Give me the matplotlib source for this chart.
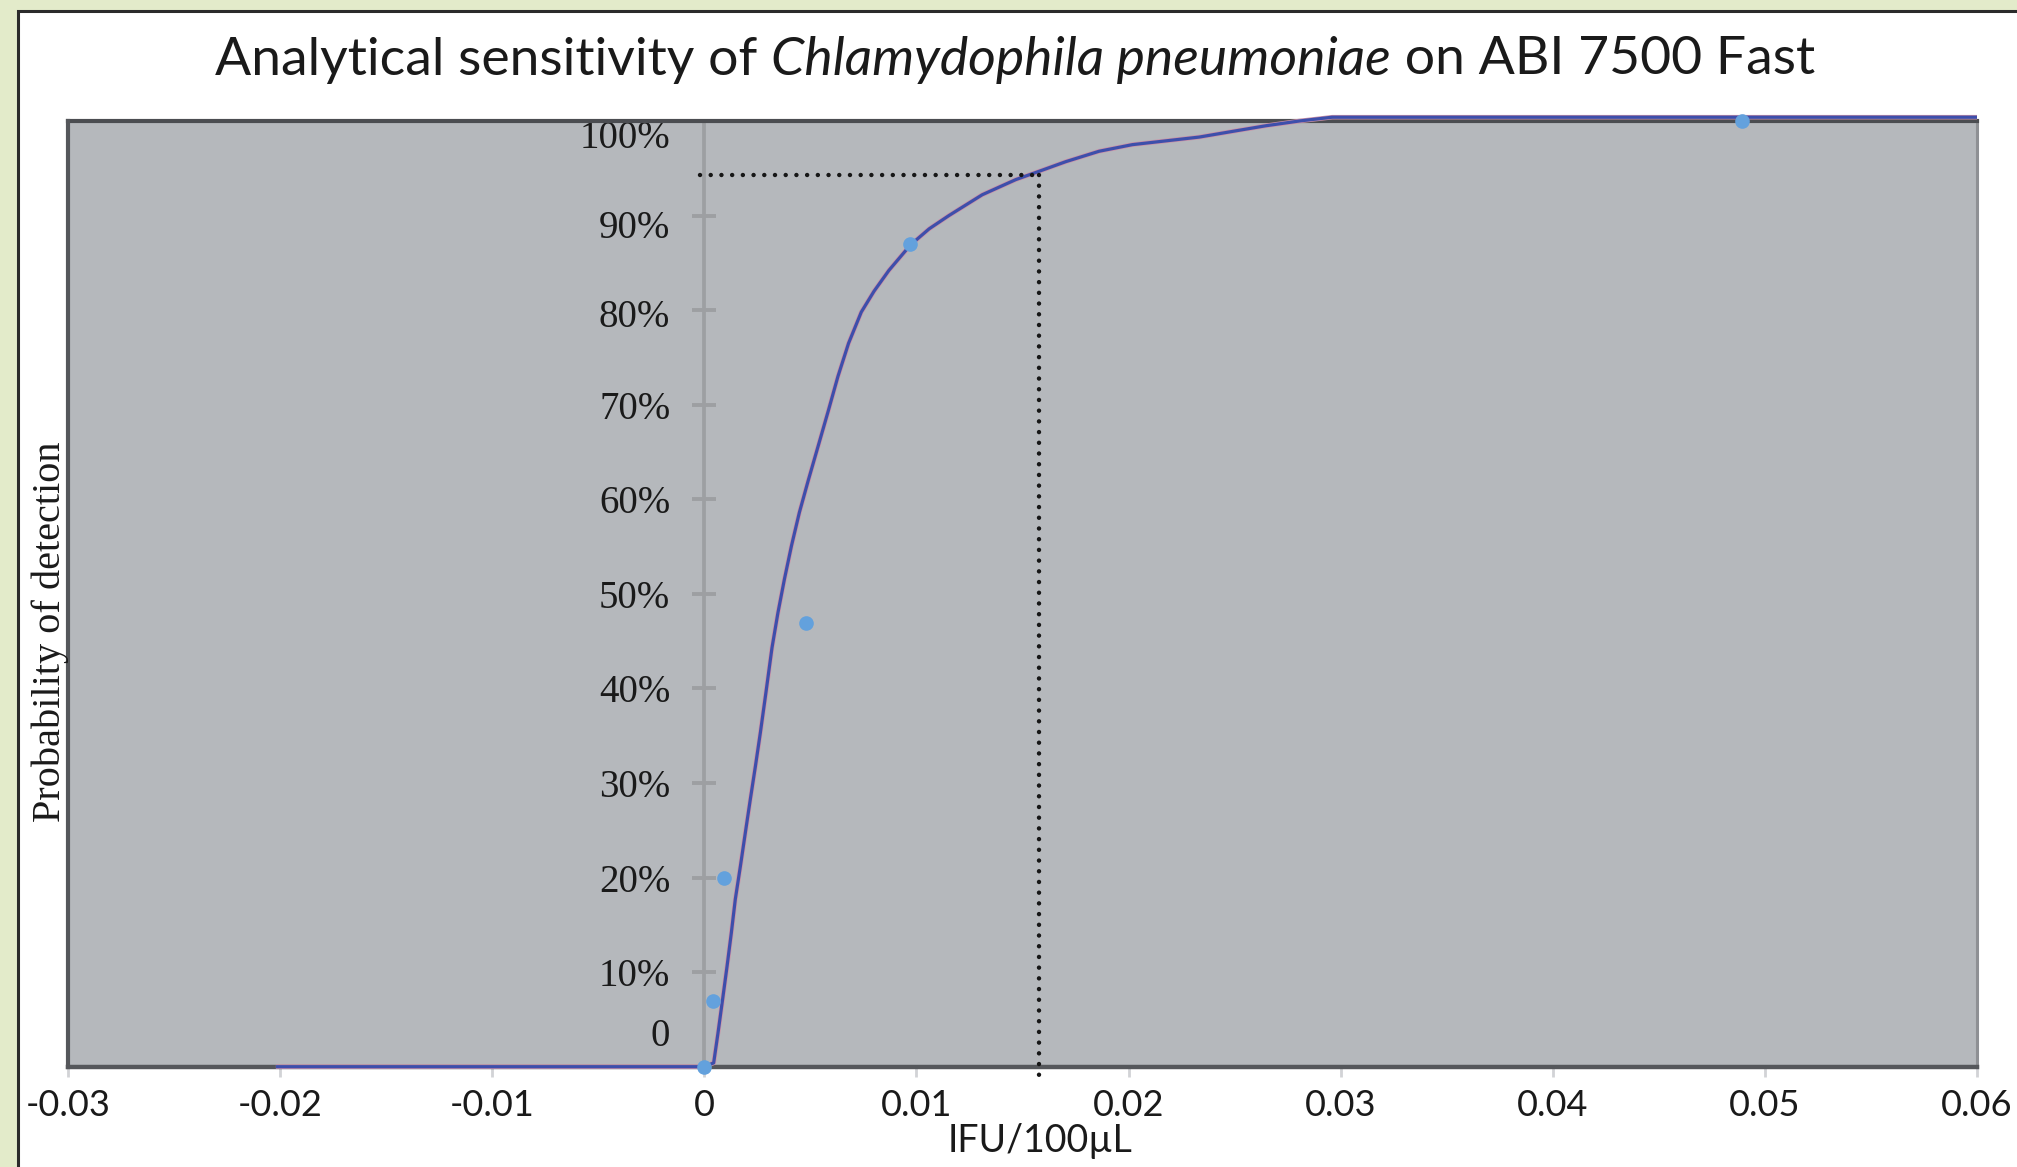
import matplotlib
matplotlib.use("Agg")
import matplotlib.pyplot as plt
from matplotlib.patches import Rectangle
from matplotlib.transforms import ScaledTranslation

# fitted probit curve (IFU/100uL vs probability)
CURVE_X = [-0.0202, 0.0, 0.00044, 0.00064, 0.00086, 0.00107, 0.00127, 0.00146,
           0.00170, 0.00193, 0.00217, 0.00241, 0.00264, 0.00290, 0.00319, 0.00347,
           0.00378, 0.00411, 0.00448, 0.00490, 0.00535, 0.00585, 0.00630, 0.00680,
           0.00740, 0.00800, 0.00870, 0.00972, 0.01060, 0.01153, 0.01310, 0.01468,
           0.01593, 0.01704, 0.01861, 0.02018, 0.02176, 0.02333, 0.02490, 0.02648,
           0.02805, 0.02960, 0.06000]
CURVE_Y = [0.0, 0.0, 0.004, 0.035, 0.071, 0.106, 0.141, 0.177,
           0.212, 0.247, 0.283, 0.318, 0.353, 0.395, 0.443, 0.480,
           0.516, 0.551, 0.586, 0.620, 0.655, 0.694, 0.730, 0.765,
           0.798, 0.820, 0.842, 0.869, 0.886, 0.900, 0.922, 0.938,
           0.948, 0.957, 0.968, 0.975, 0.979, 0.983, 0.989, 0.995,
           1.000, 1.004, 1.004]

# observed hit rates per dilution
OBS_X = [0.0, 0.00039, 0.00091, 0.0048, 0.0097, 0.0489]
OBS_Y = [0.0, 0.069, 0.20, 0.469, 0.87, 1.0]

# 95% detection limit marker (dotted guide)
LOD_X = 0.0158
LOD_Y = 0.943

X_TICKS = [-0.03, -0.02, -0.01, 0.0, 0.01, 0.02, 0.03, 0.04, 0.05, 0.06]
X_LABELS = ["-0.03", "-0.02", "-0.01", "0", "0.01", "0.02", "0.03", "0.04", "0.05", "0.06"]
Y_TICKS = [0.0, 0.1, 0.2, 0.3, 0.4, 0.5, 0.6, 0.7, 0.8, 0.9, 1.0]
Y_LABELS = ["0", "10%", "20%", "30%", "40%", "50%", "60%", "70%", "80%", "90%", "100%"]
Y_NUDGE = [25, 0, 0, 0, 0, 0, 0, 0, -2, -6, -9]  # label shift, points

W, H = 2017, 1167
fig = plt.figure(figsize=(W / 100, H / 100), dpi=100, facecolor="#e3ebca")
fig.patches.append(Rectangle((18 / W, -0.05), 1.2, 1 - 11 / H + 0.05,
                             transform=fig.transFigure, facecolor="white",
                             edgecolor="#2b2b2b", lw=2.2, zorder=-10))

ax = fig.add_axes([68 / W, (H - 1066.7) / H, (1977 - 68) / W, (1066.7 - 121) / H])
ax.set_facecolor("#b5b8bc")
ax.set_xlim(-0.03, 0.06)
ax.set_ylim(0, 1)

# spines: excel-like, y axis crossing at x = 0
ax.spines["left"].set_position(("data", 0))
ax.spines["left"].set_color("#9d9fa2")
ax.spines["left"].set_linewidth(2.7)
ax.spines["top"].set_color("#4b4d51")
ax.spines["top"].set_linewidth(3)
ax.spines["bottom"].set_color("#55575b")
ax.spines["bottom"].set_linewidth(3.2)
ax.spines["right"].set_color("#8e9094")
ax.spines["right"].set_linewidth(2.2)
ax.axvline(-0.03, color="#55575b", lw=3, zorder=2.6, clip_on=False)

ax.set_xticks(X_TICKS, X_LABELS)
ax.set_yticks(Y_TICKS, Y_LABELS)
ax.tick_params(axis="y", direction="inout", length=17, width=2.8, color="#9d9fa2",
               pad=16, labelsize=28, labelcolor="#1a1a1a")
ax.tick_params(axis="x", direction="out", length=7, width=2, color="#d2d3d6",
               pad=9, labelsize=26, labelcolor="#1a1a1a")
for lbl in ax.get_xticklabels():
    lbl.set_fontfamily("Lato")
for lbl, dy in zip(ax.get_yticklabels(), Y_NUDGE):
    lbl.set_fontfamily("Liberation Serif")
    lbl.set_transform(lbl.get_transform() + ScaledTranslation(0, dy / 72, fig.dpi_scale_trans))

# curve: thin pink fringe under blue line
ax.plot(CURVE_X, CURVE_Y, color="#cc90a6", lw=3.3, zorder=3, clip_on=False,
        solid_capstyle="butt", solid_joinstyle="round")
ax.plot(CURVE_X, CURVE_Y, color="#3d4fab", lw=2.3, zorder=3.1, clip_on=False,
        solid_capstyle="butt", solid_joinstyle="round")
ax.plot(OBS_X, OBS_Y, ls="none", marker="o", ms=9.5, color="#63a1dd", zorder=4,
        clip_on=False)

dot = dict(color="#161616", lw=3.2, ls=(0, (0.01, 2.4)), dash_capstyle="round",
           zorder=3.5, clip_on=False)
ax.plot([-0.0002, LOD_X], [LOD_Y, LOD_Y], **dot)
ax.plot([LOD_X, LOD_X], [LOD_Y, -0.01], **dot)

# labels
fig.text(50 / W, 1 - 632 / H, "Probability of detection", rotation=90,
         ha="center", va="center", fontsize=29, family="Liberation Serif",
         color="#1a1a1a")
fig.text(1040 / W, 1 - 1141 / H, "IFU/100µL", ha="center", va="center",
         fontsize=27, family="Lato", color="#1a1a1a")

# title with italic species name, assembled piecewise and centred
parts = [("Analytical sensitivity of ", "normal"),
         ("Chlamydophila pneumoniae", "italic"),
         (" on ABI 7500 Fast", "normal")]
renderer = fig.canvas.get_renderer()
texts = [fig.text(0, 1 - 60 / H, s, style=st, fontsize=38.5, family="Lato",
                  va="center", ha="left", color="#1a1a1a")
         for s, st in parts]
widths = [t.get_window_extent(renderer).width for t in texts]
x0 = 1015 - sum(widths) / 2
for t, w in zip(texts, widths):
    t.set_x(x0 / W)
    x0 += w

fig.savefig("out.png", dpi=100, facecolor=fig.get_facecolor())
